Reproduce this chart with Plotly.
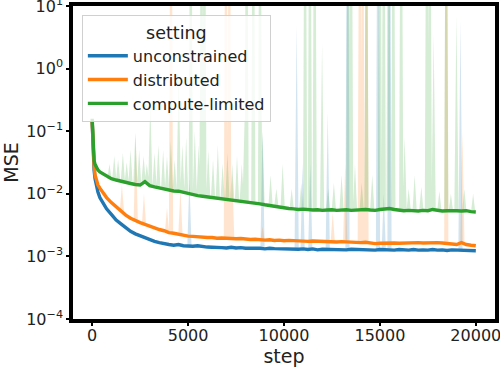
import numpy as np
import plotly.graph_objects as go

# x grid of logged steps
steps = [0, 50, 100, 150, 200, 300, 400, 500] + list(range(750, 20001, 250))

# smoothed MSE curves
unconstrained = [
    0.141, 0.0355, 0.024, 0.0174, 0.0141, 0.0107, 0.0087, 0.0076,
    0.00575, 0.00468, 0.0038, 0.0033, 0.00282, 0.00251, 0.00229, 0.00214,
    0.00195, 0.00186, 0.00174, 0.00166, 0.00158, 0.00155, 0.00151, 0.00155,
    0.00148, 0.00146, 0.00145, 0.00148, 0.00143, 0.00141, 0.0014, 0.00141,
    0.00138, 0.00136, 0.0014, 0.00136, 0.00138, 0.00135, 0.00136, 0.00133,
    0.00135, 0.00132, 0.00135, 0.00133, 0.00132, 0.00135, 0.0013, 0.00133,
    0.0013, 0.00132, 0.00129, 0.00132, 0.00127, 0.0013, 0.00129, 0.00132,
    0.00129, 0.0013, 0.00127, 0.0013, 0.00129, 0.0013, 0.00127, 0.00129,
    0.00126, 0.00129, 0.00127, 0.00129, 0.00126, 0.00129, 0.00127, 0.00126,
    0.00129, 0.00126, 0.00127, 0.00126, 0.00129, 0.00126, 0.00127, 0.00124,
    0.00127, 0.00126, 0.00127, 0.00124, 0.00126, 0.00123,
]
distributed = [
    0.141, 0.0398, 0.0282, 0.02, 0.017, 0.0138, 0.0123, 0.011,
    0.0087, 0.00724, 0.00617, 0.00537, 0.00457, 0.00407, 0.00372, 0.00347,
    0.00324, 0.00302, 0.00282, 0.00269, 0.00257, 0.0024, 0.00234, 0.00224,
    0.00219, 0.00211, 0.00209, 0.00204, 0.00204, 0.002, 0.002, 0.00195,
    0.00197, 0.00193, 0.00195, 0.00191, 0.00193, 0.00188, 0.00186, 0.00188,
    0.00184, 0.00182, 0.00184, 0.0018, 0.00182, 0.00178, 0.0018, 0.00178,
    0.00176, 0.00178, 0.00174, 0.00176, 0.00174, 0.00172, 0.00174, 0.00172,
    0.0017, 0.00172, 0.0017, 0.00168, 0.0017, 0.00166, 0.00168, 0.00162,
    0.0016, 0.00162, 0.00164, 0.00162, 0.00164, 0.00162, 0.00164, 0.00162,
    0.00164, 0.00166, 0.00164, 0.00166, 0.00164, 0.00166, 0.00164, 0.00162,
    0.00158, 0.00155, 0.00166, 0.00155, 0.00151, 0.00148,
]
compute_limited = [
    0.158, 0.0447, 0.0339, 0.0295, 0.0269, 0.024, 0.0224, 0.0214,
    0.0191, 0.0174, 0.0166, 0.0158, 0.0151, 0.0146, 0.0141, 0.0138,
    0.0156, 0.0135, 0.0129, 0.0124, 0.012, 0.0117, 0.0111, 0.011,
    0.0105, 0.01, 0.00977, 0.00933, 0.00912, 0.00891, 0.00871, 0.00851,
    0.00832, 0.00813, 0.00794, 0.00785, 0.00767, 0.00759, 0.00741, 0.00708,
    0.00692, 0.00668, 0.00646, 0.00631, 0.00617, 0.00603, 0.00582, 0.00575,
    0.00562, 0.00569, 0.00556, 0.0055, 0.00556, 0.00543, 0.0055, 0.00556,
    0.00543, 0.0055, 0.00556, 0.00543, 0.0055, 0.00556, 0.00562, 0.0055,
    0.00543, 0.00562, 0.00569, 0.00582, 0.00562, 0.0055, 0.00537, 0.00543,
    0.00537, 0.00531, 0.00543, 0.00537, 0.00562, 0.00543, 0.00531, 0.00537,
    0.00543, 0.00537, 0.00531, 0.00537, 0.00519, 0.00513,
]

# spikes of the faint spread band (step, peak MSE); 1e6 = goes off the chart
unconstrained_spike_steps = [5070, 8880, 10660, 10970, 11370, 12280, 13310, 14900, 15200, 15500, 19200]
unconstrained_spike_peaks = [0.017, 0.1, 5.0, 0.03, 0.03, 0.2, 1e6, 1e6, 0.01, 1e6, 6.0]

distributed_spike_steps = [1550, 2270, 2700, 3900, 4110, 4600, 6970, 7150, 7300, 8880,
                           12540, 13190, 13950, 14100, 14300, 18460, 19300]
distributed_spike_peaks = [0.0138, 0.09, 0.01, 0.006, 1e6, 0.012, 1e6, 1e6, 0.02, 0.003,
                           0.005, 0.03, 1e6, 1e6, 1e6, 1e6, 0.1]

compute_limited_spike_steps = [
    900, 1150, 1350, 1600, 1800, 2000, 2250, 2450, 2680, 2850, 3030, 3250, 3450, 3700,
    3900, 4100, 4300, 4510, 4700, 4900, 5140, 5350, 5550, 5700, 5850, 6050, 6300, 6550,
    6800, 7050, 7300, 7550, 7800, 7950, 8050, 8400, 8750, 8880, 9300, 9600, 9930, 10400,
    10900, 11100, 11350, 11600, 11985, 12300, 12600, 13000, 13350, 13500, 13700, 14050,
    14300, 14600, 15000, 15200, 15450, 15700, 16110, 16290, 16500, 16810, 17160, 17450,
    17600, 17800, 18100, 18460, 18700, 18990, 19400, 19860,
]
compute_limited_spike_peaks = [
    0.03, 0.04, 0.035, 0.045, 0.032, 0.05, 0.095, 0.05, 0.04, 0.03, 0.3, 0.045, 0.06, 0.05,
    0.04, 0.07, 0.035, 1.0, 0.06, 0.08, 1e6, 0.1, 0.06, 1e6, 1e6, 0.05, 0.035, 0.06,
    0.03, 0.045, 0.03, 0.04, 0.03, 0.17, 1e6, 1e6, 1e6, 0.1, 0.02, 0.012, 0.03, 0.012,
    0.015, 1e6, 1e6, 1e6, 2.5, 0.012, 0.015, 0.02, 1e6, 1e6, 0.03, 0.015,
    1e6, 0.02, 1e6, 1e6, 1e6, 1e6, 1e6, 0.08, 0.012, 0.02, 0.013, 1e6,
    1e6, 3.5, 0.011, 1e6, 0.01, 7.0, 0.012, 0.01,
]

settings = ["unconstrained", "distributed", "compute-limited"]
x_tick_vals = [0, 5000, 10000, 15000, 20000]
x_tick_text = ["0", "5000", "10000", "15000", "20000"]
y_tick_vals = [1e-4, 1e-3, 1e-2, 1e-1, 1e0, 1e1]
y_tick_text = ["10<sup>−4</sup>", "10<sup>−3</sup>", "10<sup>−2</sup>",
               "10<sup>−1</sup>", "10<sup>0</sup>", "10<sup>1</sup>"]

colors = ["#1f77b4", "#ff7f0e", "#2ca02c"]
fills = ["rgba(31,119,180,0.2)", "rgba(255,127,14,0.2)", "rgba(44,160,44,0.2)"]
curves = [unconstrained, distributed, compute_limited]
spikes = [(unconstrained_spike_steps, unconstrained_spike_peaks),
          (distributed_spike_steps, distributed_spike_peaks),
          (compute_limited_spike_steps, compute_limited_spike_peaks)]

for c in curves:
    assert len(c) == len(steps), (len(c), len(steps))

fig = go.Figure()
st = np.array(steps)
HW = 110
for vals, fc, (ss, pk) in zip(curves, fills, spikes):
    xs, ys = [], []
    for s, p in zip(ss, pk):
        b = vals[int(np.argmin(np.abs(st - s)))]
        xs += [s - HW, s, s + HW, None]
        ys += [b, p, b, None]
    fig.add_trace(go.Scatter(x=xs, y=ys, mode="lines", line=dict(width=0),
                             fill="toself", fillcolor=fc, showlegend=False,
                             hoverinfo="skip"))

for name, vals, col in zip(settings, curves, colors):
    fig.add_trace(go.Scatter(x=steps, y=vals, mode="lines", name=name,
                             line=dict(color=col, width=3.4)))

axis_common = dict(showline=True, mirror=True, linecolor="black", linewidth=3.5,
                   ticks="outside", ticklen=3, tickwidth=2, tickcolor="black",
                   showgrid=False, zeroline=False, automargin=False,
                   ticklabeloverflow="allow",
                   tickfont=dict(size=16, color="#222"))

fig.update_layout(
    width=500, height=368,
    margin=dict(l=73, r=5, t=6, b=49),
    paper_bgcolor="white", plot_bgcolor="white",
    font=dict(family="DejaVu Sans", size=16, color="#222"),
    legend=dict(title=dict(text="setting", side="top center",
                           font=dict(family="DejaVu Sans", size=17.5, color="#222")),
                x=0.021, y=0.971, xanchor="left", yanchor="top",
                bgcolor="rgba(255,255,255,0.8)", bordercolor="#d0d0d0", borderwidth=1,
                itemwidth=40, font=dict(size=16)),
    xaxis=dict(range=[-1000, 21000], tickvals=x_tick_vals, ticktext=x_tick_text,
               ticklabelstandoff=-4,
               title=dict(text="step", standoff=0), **axis_common),
    yaxis=dict(type="log", range=[-4, 1], tickvals=y_tick_vals, ticktext=y_tick_text,
               title=dict(text="MSE", standoff=4), **axis_common),
)

fig.write_html("out.html")
